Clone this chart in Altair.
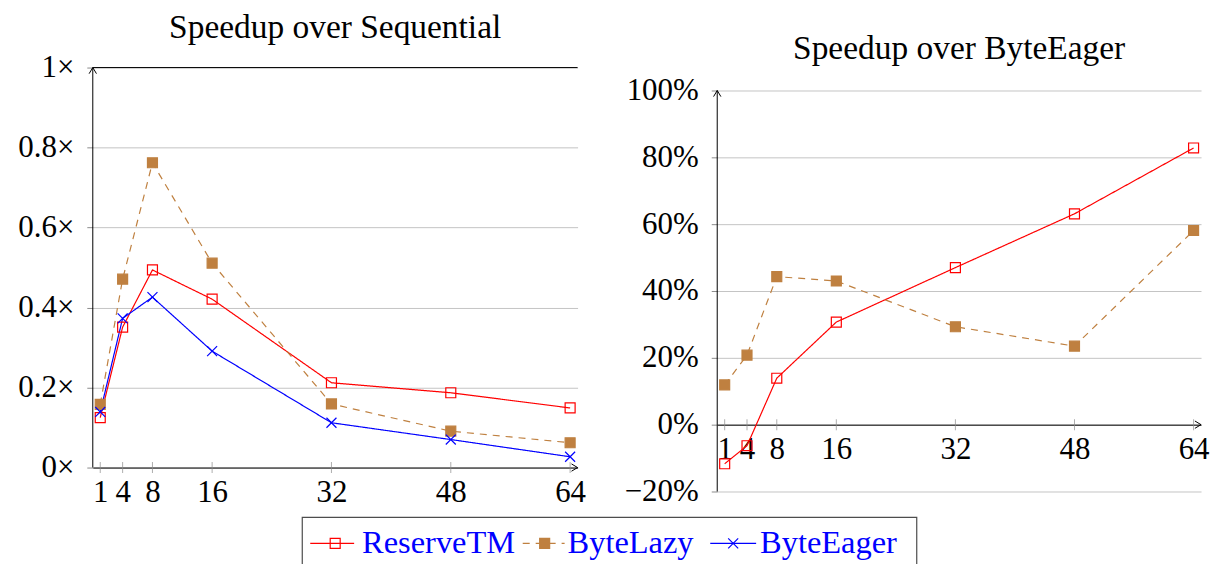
import altair as alt
import pandas as pd

# ---------------- data ----------------
threads = [1, 4, 8, 16, 32, 48, 64]
series_names = ["ReserveTM", "ByteLazy", "ByteEager"]

# Speedup over Sequential (x)
seq_reservetm = [0.125, 0.351, 0.494, 0.421, 0.212, 0.187, 0.149]
seq_bytelazy = [0.158, 0.471, 0.762, 0.511, 0.159, 0.091, 0.062]
seq_byteeager = [0.139, 0.373, 0.426, 0.291, 0.112, 0.070, 0.027]

# Speedup over ByteEager (%)
eager_reservetm = [-11.7, -6.3, 13.9, 30.7, 47.0, 63.1, 82.8]
eager_bytelazy = [11.9, 20.8, 44.3, 43.0, 29.3, 23.5, 58.1]

left_title = "Speedup over Sequential"
right_title = "Speedup over ByteEager"
left_yticks = [0, 0.2, 0.4, 0.6, 0.8, 1]
right_yticks = [-20, 0, 20, 40, 60, 80, 100]
x_domain = [0, 65]

# ---------------- style / layout ----------------
FONT = "Liberation Serif"
TITLE_SIZE = 33.5
LABEL_SIZE = 31
LEGEND_SIZE = 32.5
GRID = "#c4c4c4"
TICK = "#8c8c8c"
series_colors = ["#ff0000", "#bf8040", "#0000ff"]
series_dashes = [[1, 0], [7, 6], [1, 0]]
X_PATH = "M-1,-1L1,1M-1,1L1,-1"
series_shapes = ["square", "square", X_PATH]
series_fills = ["transparent", "#bf8040", "transparent"]
ARROW_RIGHT = "M-1,-0.6L0,0L-1,0.6"
ARROW_UP = "M-0.6,1L0,0L0.6,1"

LW, LH = 486, 401          # left plot area (visible axis extent)
RW, RH = 485, 402          # right plot area (visible axis extent)
RIGHT_TOP_PAD = 23         # right axis starts this many px lower than left
LEFT_FRAME = (-84, 516, -58, 446)
RIGHT_FRAME = (-108, 494, -58, 446)
LEFT_TITLE_Y = -30
RIGHT_TITLE_Y = -9

LEG_X0 = 210               # legend box left, relative to left plot's left edge
LEGW, LEGH = 616, 54
LEG_Y = 26
leg_line_x1 = [8, 221, 409]
leg_line_x2 = [52, 263, 455]
leg_mark_x = [33, 243, 432]
leg_text_x = [60, 266, 459]

color_scale = alt.Scale(domain=series_names, range=series_colors)
dash_scale = alt.Scale(domain=series_names, range=series_dashes)
shape_scale = alt.Scale(domain=series_names, range=series_shapes)
fill_scale = alt.Scale(domain=series_names, range=series_fills)


def long_df(values_by_series):
    rows = []
    for name, vals in values_by_series:
        for t, v in zip(threads, vals):
            rows.append({"threads": t, "value": v, "series": name})
    return pd.DataFrame(rows)


left_df = long_df([("ReserveTM", seq_reservetm), ("ByteLazy", seq_bytelazy),
                   ("ByteEager", seq_byteeager)])
right_df = long_df([("ReserveTM", eager_reservetm), ("ByteLazy", eager_bytelazy)])


def make_panel(df, yticks, yfmt, ylabel_expr, width, vis_height, top_pad,
               title_text, title_y, frame, top_black):
    ymin, ytop = yticks[0], yticks[-1]
    ext_top = ytop + top_pad * (ytop - ymin) / vis_height
    height = vis_height + top_pad
    zero_px = height * (ext_top - 0) / (ext_top - ymin)
    x_offset = zero_px - height
    x_enc = alt.X("threads:Q", title=None,
                  scale=alt.Scale(domain=x_domain, nice=False, zero=False),
                  axis=alt.Axis(values=threads, ticks=False, grid=False,
                                domainColor="black", domainWidth=1,
                                labelPadding=10, labelOverlap=False,
                                labelFlush=False, offset=x_offset))
    y_enc = alt.Y("value:Q", title=None,
                  scale=alt.Scale(domain=[ymin, ext_top], nice=False, zero=False),
                  axis=alt.Axis(values=yticks, format=yfmt, labelExpr=ylabel_expr,
                                grid=True, gridColor=GRID, gridWidth=1,
                                domain=False,
                                tickColor=TICK, tickSize=6, labelPadding=13,
                                labelFlush=False, labelOverlap=False))

    layers = []
    layers.append(
        alt.Chart(pd.DataFrame({"a": [0]})).mark_rule(opacity=0).encode(
            x=alt.value(frame[0]), x2=alt.value(frame[1]),
            y=alt.value(frame[2]), y2=alt.value(frame[3]))
    )
    if top_black:
        layers.append(
            alt.Chart(pd.DataFrame({"value": [ytop]})).mark_rule(
                color="black", strokeWidth=1).encode(
                y=y_enc, x=alt.value(0), x2=alt.value(width))
        )
    # vertical axis line
    layers.append(
        alt.Chart(pd.DataFrame({"value": [ymin], "value2": [ytop]})).mark_rule(
            color="black", strokeWidth=1).encode(
            y=y_enc, y2="value2:Q", x=alt.value(0))
    )
    tick_df = pd.DataFrame({"threads": threads, "value": [0] * len(threads)})
    layers.append(
        alt.Chart(tick_df).mark_tick(orient="vertical", size=11, thickness=1,
                                     color=TICK).encode(x=x_enc, y=y_enc)
    )
    base = alt.Chart(df)
    layers.append(
        base.mark_line(strokeWidth=1.2).encode(
            x=x_enc, y=y_enc,
            color=alt.Color("series:N", scale=color_scale, legend=None),
            strokeDash=alt.StrokeDash("series:N", scale=dash_scale, legend=None))
    )
    layers.append(
        base.mark_point(filled=False, opacity=1, strokeWidth=1.2, size=100).encode(
            x=x_enc, y=y_enc,
            color=alt.Color("series:N", scale=color_scale, legend=None),
            shape=alt.Shape("series:N", scale=shape_scale, legend=None),
            fill=alt.Fill("series:N", scale=fill_scale, legend=None))
    )
    layers.append(
        alt.Chart(pd.DataFrame({"threads": [x_domain[1]], "value": [0]})).mark_point(
            shape=ARROW_RIGHT, size=150, filled=False, stroke="black",
            strokeWidth=1, opacity=1).encode(x=x_enc, y=y_enc)
    )
    layers.append(
        alt.Chart(pd.DataFrame({"threads": [x_domain[0]], "value": [ytop]})).mark_point(
            shape=ARROW_UP, size=150, filled=False, stroke="black",
            strokeWidth=1, opacity=1).encode(x=x_enc, y=y_enc)
    )
    layers.append(
        alt.Chart(pd.DataFrame({"t": [title_text]})).mark_text(
            font=FONT, fontSize=TITLE_SIZE, baseline="alphabetic", align="center",
            color="black").encode(text="t:N", x=alt.value(width / 2),
                                  y=alt.value(title_y + top_pad))
    )
    return alt.layer(*layers).properties(width=width, height=height)


left = make_panel(left_df, left_yticks, "~g", "datum.label + '×'",
                  LW, LH, 0, left_title, LEFT_TITLE_Y, LEFT_FRAME, True)
right = make_panel(right_df, right_yticks, "d", "datum.label + '%'",
                   RW, RH, RIGHT_TOP_PAD, right_title, RIGHT_TITLE_Y - RIGHT_TOP_PAD,
                   RIGHT_FRAME, False)

# ---------------- legend ----------------
leg_df = pd.DataFrame({
    "series": series_names,
    "x1": [LEG_X0 + v for v in leg_line_x1],
    "x2": [LEG_X0 + v for v in leg_line_x2],
    "mx": [LEG_X0 + v for v in leg_mark_x],
    "tx": [LEG_X0 + v for v in leg_text_x],
})
LEG_FULLW = LEG_X0 + LEGW
leg_scale = alt.Scale(domain=[0, LEG_FULLW], nice=False, zero=False)
leg_box = alt.Chart(pd.DataFrame({"a": [0]})).mark_rect(
    fill="transparent", stroke="#4d4d4d", strokeWidth=1.2).encode(
    x=alt.value(LEG_X0), x2=alt.value(LEG_FULLW), y=alt.value(0), y2=alt.value(LEGH))
leg_lines = alt.Chart(leg_df).mark_rule(strokeWidth=1.2).encode(
    x=alt.X("x1:Q", scale=leg_scale, axis=None), x2="x2:Q", y=alt.value(LEG_Y),
    color=alt.Color("series:N", scale=color_scale, legend=None),
    strokeDash=alt.StrokeDash("series:N", scale=dash_scale, legend=None))
leg_marks = alt.Chart(leg_df).mark_point(filled=False, opacity=1, strokeWidth=1.2,
                                         size=100).encode(
    x=alt.X("mx:Q", scale=leg_scale, axis=None), y=alt.value(LEG_Y),
    color=alt.Color("series:N", scale=color_scale, legend=None),
    shape=alt.Shape("series:N", scale=shape_scale, legend=None),
    fill=alt.Fill("series:N", scale=fill_scale, legend=None))
leg_text = alt.Chart(leg_df).mark_text(font=FONT, fontSize=LEGEND_SIZE, align="left",
                                       baseline="middle", color="#0000ff").encode(
    x=alt.X("tx:Q", scale=leg_scale, axis=None), y=alt.value(LEG_Y), text="series:N")
legend = alt.layer(leg_box, leg_lines, leg_marks, leg_text).properties(
    width=LEG_FULLW, height=LEGH)

chart = alt.vconcat(
    alt.hconcat(left, right, spacing=0),
    legend,
    spacing=2,
).properties(padding=0).configure_view(stroke="transparent").configure_axis(
    labelFont=FONT, labelFontSize=LABEL_SIZE, labelColor="black")

chart.save("out.html", embed_options={"renderer": "svg", "actions": False})
